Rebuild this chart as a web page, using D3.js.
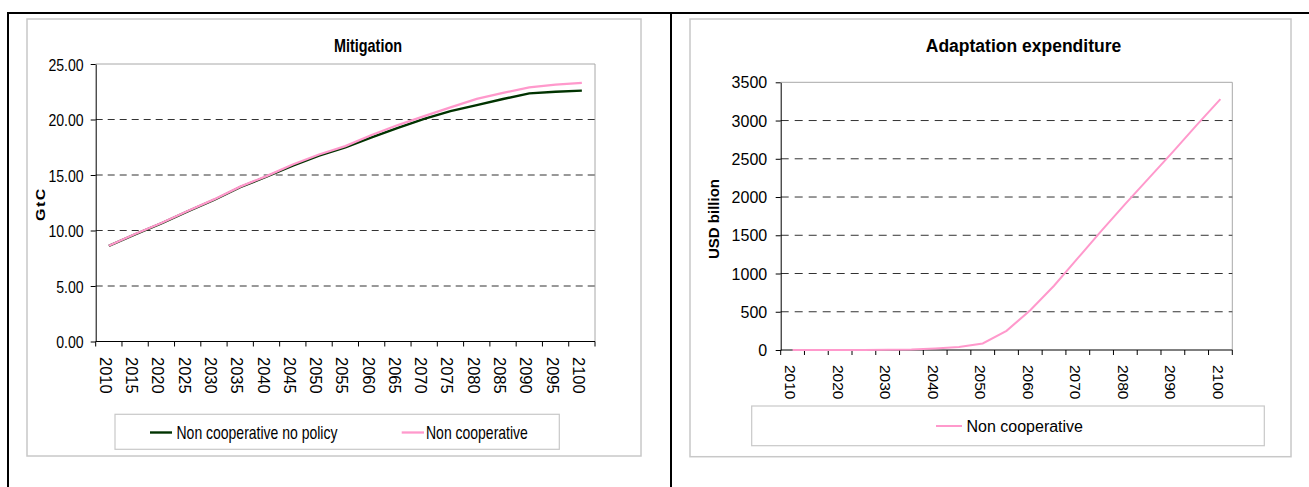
<!DOCTYPE html>
<html><head><meta charset="utf-8">
<script src="https://cdn.jsdelivr.net/npm/d3@7"></script>
<style>
body{margin:0;background:#fff}
svg{display:block}
text{font-family:Arial,"Liberation Sans",sans-serif;fill:#000}
</style>
</head><body>
<svg id="c" width="1309" height="487"></svg>
<script>
// ---------- data ----------
const years = ["2010","2015","2020","2025","2030","2035","2040","2045","2050","2055","2060","2065","2070","2075","2080","2085","2090","2095","2100"];
const noPolicy = [8.62,9.65,10.65,11.72,12.75,13.9,14.85,15.85,16.75,17.5,18.4,19.25,20.05,20.75,21.3,21.85,22.35,22.5,22.6];
const nonCoop  = [8.62,9.68,10.68,11.75,12.8,13.95,14.9,15.95,16.85,17.6,18.6,19.5,20.3,21.1,21.85,22.4,22.9,23.15,23.3];
const adaptation = [0,0,1,1,2,5,20,40,85,250,520,840,1200,1560,1910,2250,2590,2940,3280];
const mitigationTicks = [0,5,10,15,20,25];
const adaptationTicks = [0,500,1000,1500,2000,2500,3000,3500];
const adaptationXLabels = ["2010","2020","2030","2040","2050","2060","2070","2080","2090","2100"];
const seriesNames = ["Non cooperative no policy","Non cooperative"];
const titles = ["Mitigation","Adaptation expenditure"];
const yTitles = ["GtC","USD billion"];

const GREEN = "#003300", PINK = "#FF99CC";
const svg = d3.select("#c");

// ---------- outer frame ----------
svg.append("line").attr("x1",7).attr("x2",1309).attr("y1",13).attr("y2",13).attr("stroke","#000").attr("stroke-width",2);
svg.append("line").attr("x1",8).attr("x2",8).attr("y1",12).attr("y2",487).attr("stroke","#000").attr("stroke-width",2);
svg.append("line").attr("x1",671).attr("x2",671).attr("y1",12).attr("y2",487).attr("stroke","#000").attr("stroke-width",2);

function hText(g, x, y, str, size, opts={}) {
  const t = g.append("text")
    .attr("transform", `translate(${x},${y}) scale(${opts.sx||1},1)`)
    .attr("text-anchor", opts.anchor||"start")
    .style("font-size", size+"px")
    .text(str);
  if (opts.bold) t.style("font-weight","bold");
  return t;
}

// =============== LEFT: Mitigation ===============
{
  const g = svg.append("g");
  const P = {x0:95.7, x1:595, y0:64, y1:341.5};
  g.append("rect").attr("x",27).attr("y",19).attr("width",614).attr("height",437)
    .attr("fill","#fff").attr("stroke","#c8c8c8").attr("stroke-width",1.5);
  const x = d3.scaleBand().domain(years).range([P.x0,P.x1]).padding(0);
  const y = d3.scaleLinear().domain([0,25]).range([P.y1,P.y0]);
  const SX = 0.8;

  g.append("path").attr("d",`M${P.x0},${P.y0}H${P.x1}V${P.y1}`).attr("fill","none").attr("stroke","#a8a8a8").attr("stroke-width",1);
  g.selectAll(".grid").data(mitigationTicks.filter(t=>t>0 && t<25)).join("line")
    .attr("x1",P.x0).attr("x2",P.x1).attr("y1",d=>y(d)).attr("y2",d=>y(d))
    .attr("stroke","#333").attr("stroke-width",1).attr("stroke-dasharray","7,5");
  const ya = g.append("g").attr("transform",`translate(${P.x0},0)`)
    .call(d3.axisLeft(y).tickValues(mitigationTicks).tickSize(5).tickSizeOuter(0).tickFormat(d3.format(".2f")));
  ya.select(".domain").attr("stroke","#000");
  ya.selectAll(".tick line").attr("stroke","#000");
  ya.selectAll(".tick text").attr("x",null).attr("dy",null)
    .attr("transform",`translate(-12,6) scale(${SX+0.03},1)`)
    .attr("text-anchor","end").style("font-size","17px").style("font-family","Arial,'Liberation Sans',sans-serif");
  g.append("line").attr("x1",P.x0).attr("x2",P.x1).attr("y1",P.y1).attr("y2",P.y1).attr("stroke","#000");
  const bounds = years.map(d=>x(d)).concat([P.x1]);
  g.selectAll(".xt").data(bounds).join("line")
    .attr("x1",d=>d).attr("x2",d=>d).attr("y1",P.y1).attr("y2",P.y1+5).attr("stroke","#000");
  g.selectAll(".xl").data(years).join("text")
    .attr("transform",d=>`translate(${x(d)+x.bandwidth()/2-3},357) rotate(90)`)
    .attr("dominant-baseline","central").style("font-size","16.5px").text(d=>d);
  hText(g, 368, 52, titles[0], 18, {anchor:"middle", bold:true, sx:SX});
  g.append("text").attr("transform",`translate(40,204) scale(0.85,1) rotate(-90)`)
    .attr("text-anchor","middle").attr("dominant-baseline","central")
    .style("font-size","16px").style("font-weight","bold").style("letter-spacing","1.5px").text(yTitles[0]);
  const cx = (i)=>x(years[i])+x.bandwidth()/2;
  const line = d3.line().x((d,i)=>cx(i)).y(d=>y(d));
  g.append("path").datum(noPolicy).attr("d",line).attr("fill","none").attr("stroke",GREEN).attr("stroke-width",2.4);
  g.append("path").datum(nonCoop).attr("d",line).attr("fill","none").attr("stroke",PINK).attr("stroke-width",2.3);
  g.append("rect").attr("x",115).attr("y",414.3).attr("width",444.3).attr("height",35)
    .attr("fill","#fff").attr("stroke","#c8c8c8").attr("stroke-width",1.2);
  g.append("line").attr("x1",150).attr("x2",172).attr("y1",432.5).attr("y2",432.5).attr("stroke",GREEN).attr("stroke-width",2.4);
  hText(g, 176.5, 439, seriesNames[0], 17.5, {sx:SX});
  g.append("line").attr("x1",401.7).attr("x2",424).attr("y1",432.5).attr("y2",432.5).attr("stroke",PINK).attr("stroke-width",2.3);
  hText(g, 426, 439, seriesNames[1], 17.5, {sx:SX});
}

// =============== RIGHT: Adaptation ===============
{
  const g = svg.append("g");
  const P = {x0:780.7, x1:1232.3, y0:82.3, y1:350};
  g.append("rect").attr("x",690).attr("y",19).attr("width",601).attr("height",437.7)
    .attr("fill","#fff").attr("stroke","#c8c8c8").attr("stroke-width",1.5);
  const x = d3.scaleBand().domain(years).range([P.x0,P.x1]).padding(0);
  const y = d3.scaleLinear().domain([0,3500]).range([P.y1,P.y0]);

  g.append("path").attr("d",`M${P.x0},${P.y0}H${P.x1}V${P.y1}`).attr("fill","none").attr("stroke","#a8a8a8").attr("stroke-width",1);
  g.selectAll(".grid").data(adaptationTicks.filter(t=>t>0 && t<3500)).join("line")
    .attr("x1",P.x0).attr("x2",P.x1).attr("y1",d=>y(d)).attr("y2",d=>y(d))
    .attr("stroke","#333").attr("stroke-width",1).attr("stroke-dasharray","8,6");
  const ya = g.append("g").attr("transform",`translate(${P.x0},0)`)
    .call(d3.axisLeft(y).tickValues(adaptationTicks).tickSize(5).tickSizeOuter(0).tickFormat(d3.format("d")));
  ya.select(".domain").attr("stroke","#000");
  ya.selectAll(".tick line").attr("stroke","#000");
  ya.selectAll(".tick text").attr("x",-13.5).attr("dy","0.35em")
    .attr("text-anchor","end").style("font-size","16px").style("font-family","Arial,'Liberation Sans',sans-serif");
  g.append("line").attr("x1",P.x0).attr("x2",P.x1).attr("y1",P.y1).attr("y2",P.y1).attr("stroke","#000");
  const bounds = years.map(d=>x(d)).concat([P.x1]);
  g.selectAll(".xt").data(bounds).join("line")
    .attr("x1",d=>d).attr("x2",d=>d).attr("y1",P.y1).attr("y2",P.y1+5).attr("stroke","#000");
  g.selectAll(".xl").data(adaptationXLabels).join("text")
    .attr("transform",d=>`translate(${x(d)+x.bandwidth()/2-2},365) rotate(90)`)
    .attr("dominant-baseline","central").style("font-size","15.5px").text(d=>d);
  hText(g, 1023.5, 52, titles[1], 17.5, {anchor:"middle", bold:true});
  g.append("text").attr("transform",`translate(713,219) rotate(-90)`)
    .attr("text-anchor","middle").attr("dominant-baseline","central")
    .style("font-size","15px").style("font-weight","bold").text(yTitles[1]);
  const cx = (i)=>x(years[i])+x.bandwidth()/2;
  const line = d3.line().x((d,i)=>cx(i)).y(d=>y(d));
  g.append("path").datum(adaptation).attr("d",line).attr("fill","none").attr("stroke",PINK).attr("stroke-width",2);
  g.append("rect").attr("x",751.7).attr("y",406).attr("width",512.6).attr("height",39.7)
    .attr("fill","#fff").attr("stroke","#c8c8c8").attr("stroke-width",1.2);
  g.append("line").attr("x1",936).attr("x2",962).attr("y1",426).attr("y2",426).attr("stroke",PINK).attr("stroke-width",2);
  hText(g, 966.5, 431.8, seriesNames[1], 16);
}
</script>
</body></html>
